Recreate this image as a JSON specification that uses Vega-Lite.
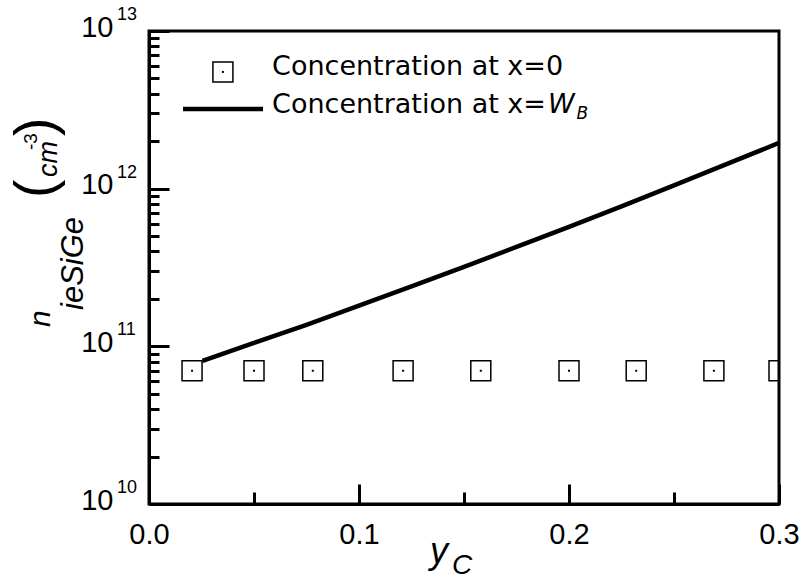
{
  "$schema": "https://vega.github.io/schema/vega-lite/v6.json",
  "width": 630,
  "height": 473,
  "autosize": {"type": "none"},
  "padding": {"left": 149, "top": 31, "right": 27, "bottom": 76},
  "background": "white",
  "config": {
    "view": {"stroke": "black", "strokeWidth": 3},
    "font": "Liberation Sans",
    "text": {"font": "Liberation Sans", "color": "black"}
  },
  "datasets": {
    "surface": [
      {"yC": 0.0205, "n": 7.0e10},
      {"yC": 0.05, "n": 7.0e10},
      {"yC": 0.078, "n": 7.0e10},
      {"yC": 0.121, "n": 7.0e10},
      {"yC": 0.158, "n": 7.0e10},
      {"yC": 0.2, "n": 7.0e10},
      {"yC": 0.232, "n": 7.0e10},
      {"yC": 0.269, "n": 7.0e10},
      {"yC": 0.3, "n": 7.0e10}
    ],
    "base": [
      {"yC": 0.0255, "n": 8.1e10},
      {"yC": 0.05, "n": 1.05e11},
      {"yC": 0.075, "n": 1.37e11},
      {"yC": 0.1, "n": 1.81e11},
      {"yC": 0.125, "n": 2.40e11},
      {"yC": 0.15, "n": 3.19e11},
      {"yC": 0.175, "n": 4.27e11},
      {"yC": 0.2, "n": 5.73e11},
      {"yC": 0.225, "n": 7.73e11},
      {"yC": 0.25, "n": 1.05e12},
      {"yC": 0.275, "n": 1.43e12},
      {"yC": 0.3, "n": 1.95e12}
    ],
    "decades": [
      {"n": 1e10, "exp": "10"},
      {"n": 1e11, "exp": "11"},
      {"n": 1e12, "exp": "12"},
      {"n": 1e13, "exp": "13"}
    ],
    "one": [{}]
  },
  "layer": [
    {
      "data": {"name": "base"},
      "mark": {"type": "line", "color": "black", "strokeWidth": 4.5, "clip": true},
      "encoding": {
        "x": {
          "field": "yC",
          "type": "quantitative",
          "scale": {"type": "linear", "domain": [0, 0.3], "nice": false, "zero": false},
          "axis": {
            "title": null,
            "grid": false,
            "values": [0, 0.05, 0.1, 0.15, 0.2, 0.25, 0.3],
            "domainColor": "black",
            "domainWidth": 3,
            "tickColor": "black",
            "tickWidth": 3,
            "tickSize": {"condition": {"test": "abs(datum.value*10 - round(datum.value*10)) < 0.001", "value": -20}, "value": -12},
            "labelExpr": "abs(datum.value*10 - round(datum.value*10)) < 0.001 ? format(datum.value, '.1f') : ''",
            "labelFont": "Liberation Sans",
            "labelFontSize": 29,
            "labelColor": "black",
            "labelPadding": 36,
            "labelBaseline": "top",
            "labelFlush": false,
            "labelOverlap": false,
            "labelBound": false
          }
        },
        "y": {
          "field": "n",
          "type": "quantitative",
          "scale": {"type": "log", "domain": [1e10, 1e13], "nice": false},
          "axis": {
            "title": null,
            "grid": false,
            "values": [1e10, 2e10, 3e10, 4e10, 5e10, 6e10, 7e10, 8e10, 9e10,
                       1e11, 2e11, 3e11, 4e11, 5e11, 6e11, 7e11, 8e11, 9e11,
                       1e12, 2e12, 3e12, 4e12, 5e12, 6e12, 7e12, 8e12, 9e12, 1e13],
            "domainColor": "black",
            "domainWidth": 3,
            "tickColor": "black",
            "tickWidth": 3,
            "tickSize": {"condition": {"test": "abs(log(datum.value)/LN10 - round(log(datum.value)/LN10)) < 0.001", "value": -20}, "value": -10},
            "labelExpr": "abs(log(datum.value)/LN10 - round(log(datum.value)/LN10)) < 0.001 ? '10' : ''",
            "labelFont": "Liberation Sans",
            "labelFontSize": 29,
            "labelColor": "black",
            "labelPadding": 56,
            "labelBaseline": "middle",
            "labelOffset": -4,
            "labelOverlap": false,
            "labelBound": false
          }
        }
      }
    },
    {
      "data": {"name": "surface"},
      "mark": {"type": "point", "shape": "square", "size": 400, "filled": false, "stroke": "black", "strokeWidth": 1.5, "opacity": 1, "clip": true},
      "encoding": {
        "x": {"field": "yC", "type": "quantitative"},
        "y": {"field": "n", "type": "quantitative"}
      }
    },
    {
      "data": {"name": "surface"},
      "mark": {"type": "point", "shape": "square", "size": 4, "filled": true, "color": "black", "opacity": 1, "clip": true},
      "encoding": {
        "x": {"field": "yC", "type": "quantitative"},
        "y": {"field": "n", "type": "quantitative"}
      }
    },
    {
      "data": {"name": "decades"},
      "mark": {"type": "text", "fontSize": 18, "align": "left", "baseline": "middle", "dx": -32, "dy": -16},
      "encoding": {
        "x": {"datum": 0},
        "y": {"field": "n", "type": "quantitative"},
        "text": {"field": "exp"}
      }
    },
    {
      "data": {"name": "one"},
      "mark": {"type": "point", "shape": "square", "size": 400, "filled": false, "stroke": "black", "strokeWidth": 1.5, "opacity": 1},
      "encoding": {"x": {"datum": 0.0352}, "y": {"datum": 5.5e12}}
    },
    {
      "data": {"name": "one"},
      "mark": {"type": "point", "shape": "square", "size": 4, "filled": true, "color": "black", "opacity": 1},
      "encoding": {"x": {"datum": 0.0352}, "y": {"datum": 5.5e12}}
    },
    {
      "data": {"name": "one"},
      "mark": {"type": "rule", "color": "black", "strokeWidth": 4.5},
      "encoding": {"x": {"datum": 0.0162}, "x2": {"datum": 0.0543}, "y": {"datum": 3.2e12}}
    },
    {
      "data": {"name": "one"},
      "mark": {"type": "text", "text": "Concentration at x=0", "font": "DejaVu Sans", "fontSize": 27, "align": "left", "baseline": "alphabetic", "dy": 3},
      "encoding": {"x": {"datum": 0.0586}, "y": {"datum": 5.5e12}}
    },
    {
      "data": {"name": "one"},
      "mark": {"type": "text", "text": "Concentration at x=", "font": "DejaVu Sans", "fontSize": 27, "align": "left", "baseline": "alphabetic", "dy": 4},
      "encoding": {"x": {"datum": 0.0586}, "y": {"datum": 3.2e12}}
    },
    {
      "data": {"name": "one"},
      "mark": {"type": "text", "text": "W", "font": "DejaVu Sans", "fontSize": 27, "fontStyle": "italic", "align": "left", "baseline": "alphabetic", "dy": 4},
      "encoding": {"x": {"datum": 0.19}, "y": {"datum": 3.2e12}}
    },
    {
      "data": {"name": "one"},
      "mark": {"type": "text", "text": "B", "font": "DejaVu Sans", "fontSize": 17, "fontStyle": "italic", "align": "left", "baseline": "alphabetic", "dy": 10},
      "encoding": {"x": {"datum": 0.2036}, "y": {"datum": 3.2e12}}
    },
    {
      "data": {"name": "one"},
      "mark": {"type": "text", "text": "y", "fontSize": 36, "fontStyle": "italic", "align": "left", "baseline": "alphabetic", "dx": -34, "dy": 59},
      "encoding": {"x": {"datum": 0.15}, "y": {"datum": 1e10}}
    },
    {
      "data": {"name": "one"},
      "mark": {"type": "text", "text": "C", "fontSize": 28, "fontStyle": "italic", "align": "left", "baseline": "alphabetic", "dx": -12, "dy": 70},
      "encoding": {"x": {"datum": 0.15}, "y": {"datum": 1e10}}
    },
    {
      "data": {"name": "one"},
      "mark": {"type": "text", "text": "n", "fontSize": 30, "fontStyle": "italic", "angle": 270, "align": "left", "baseline": "alphabetic", "dx": 177, "dy": -99},
      "encoding": {"x": {"datum": 0}, "y": {"datum": 1e10}}
    },
    {
      "data": {"name": "one"},
      "mark": {"type": "text", "text": "ieSiGe", "fontSize": 31, "fontStyle": "italic", "angle": 270, "align": "left", "baseline": "alphabetic", "dx": 194, "dy": -66},
      "encoding": {"x": {"datum": 0}, "y": {"datum": 1e10}}
    },
    {
      "data": {"name": "one"},
      "mark": {"type": "text", "text": "(", "fontSize": 55, "angle": 270, "align": "left", "baseline": "alphabetic", "dx": 306, "dy": -96},
      "encoding": {"x": {"datum": 0}, "y": {"datum": 1e10}}
    },
    {
      "data": {"name": "one"},
      "mark": {"type": "text", "text": "cm", "fontSize": 27, "fontStyle": "italic", "angle": 270, "align": "left", "baseline": "alphabetic", "dx": 327, "dy": -92},
      "encoding": {"x": {"datum": 0}, "y": {"datum": 1e10}}
    },
    {
      "data": {"name": "one"},
      "mark": {"type": "text", "text": "-3", "fontSize": 19, "angle": 270, "align": "left", "baseline": "alphabetic", "dx": 354, "dy": -112},
      "encoding": {"x": {"datum": 0}, "y": {"datum": 1e10}}
    },
    {
      "data": {"name": "one"},
      "mark": {"type": "text", "text": ")", "fontSize": 55, "angle": 270, "align": "left", "baseline": "alphabetic", "dx": 368, "dy": -96},
      "encoding": {"x": {"datum": 0}, "y": {"datum": 1e10}}
    }
  ]
}
